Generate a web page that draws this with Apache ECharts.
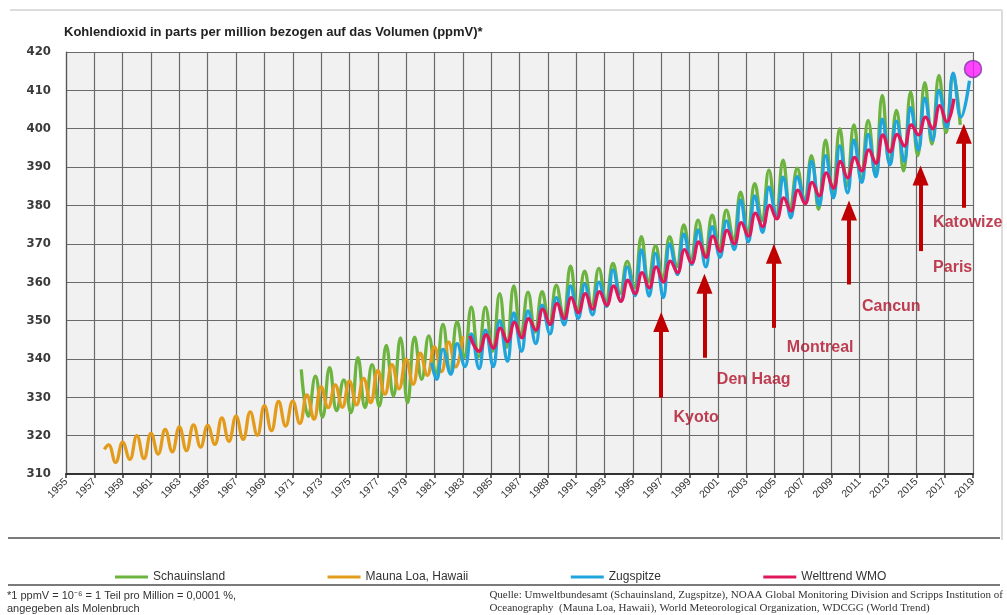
<!DOCTYPE html>
<html>
<head>
<meta charset="utf-8">
<script src="https://cdn.jsdelivr.net/npm/echarts@6/dist/echarts.min.js"></script>
<style>
html,body{margin:0;padding:0;background:#fff;}
#chart{width:1007px;height:615px;}
</style>
</head>
<body>
<div id="chart"></div>
<script>
// ---------------- DATA ----------------
const X0 = 1955;                      // x-axis origin (year)
const xMinYear = 1955, xMaxYear = 2019, xStepYears = 2;
const yMin = 310, yMax = 420, yStep = 10;

const seriesNames = ['Schauinsland', 'Mauna Loa, Hawaii', 'Zugspitze', 'Welttrend WMO'];

// Mauna Loa: seasonal maxima (year+0.0) 1958-1983 and minima (year+0.5) 1958-1982
const maunaLoaStart = [1957.7, 316.4];
const maunaLoaFirstYear = 1958;
const maunaLoaPeaks = [317.6, 318.3, 320.0, 320.6, 321.6, 322.3, 322.8, 322.7, 324.6, 325.1,
  326.2, 327.8, 328.9, 329.0, 330.6, 332.8, 333.2, 334.2, 334.9, 337.0, 338.5, 339.9, 341.5,
  343.1, 344.4, 345.9];
const maunaLoaTroughs = [313.0, 313.8, 314.0, 315.2, 315.8, 316.1, 317.0, 317.7, 318.5, 319.0,
  320.1, 321.3, 322.5, 323.2, 324.3, 327.3, 327.4, 328.0, 328.6, 330.8, 332.2, 333.4, 335.7,
  336.7, 337.9];
const maunaLoaPhase = [0.0, 0.5];

// Schauinsland: maxima (year+0.6) 1971-2017, minima (year+0.1) 1972-2018
const schauFirstYear = 1971;
const schauPeaks = [337.3, 335.5, 337.7, 334.5, 340.3, 338.5, 343.5, 345.5, 345.7, 346.0,
  349.0, 349.7, 353.5, 353.5, 357.0, 359.0, 357.4, 357.5, 359.2, 364.2, 362.9, 363.6, 364.9,
  365.4, 371.9, 369.5, 371.9, 374.9, 376.2, 377.5, 378.8, 383.5, 385.7, 389.2, 391.8, 389.7,
  393.0, 397.0, 400.0, 401.0, 402.2, 408.7, 404.8, 409.6, 412.0, 413.9, 414.0];
const schauTroughs = [325.0, 324.8, 326.5, 326.0, 327.3, 327.7, 330.3, 328.6, 334.7, 336.0,
  336.5, 340.4, 340.5, 342.0, 343.0, 346.0, 347.0, 349.0, 351.0, 352.5, 354.0, 355.0, 357.0,
  358.5, 360.0, 361.0, 364.0, 366.0, 367.0, 369.0, 371.0, 373.0, 376.0, 377.0, 379.0, 381.0,
  379.0, 383.0, 385.0, 387.0, 388.0, 391.0, 389.0, 393.0, 396.0, 399.0, 401.0];
const schauPhase = [0.6, 0.1];

// Zugspitze: start point, minima (year+0.15) 1981-2018, maxima (year+0.6) 1981-2017, end point
const zugStart = [1980.8, 339.0];
const zugFirstYear = 1981;
const zugTroughs = [334.7, 336.0, 338.0, 337.5, 338.0, 339.4, 342.0, 344.0, 346.5, 348.9,
  350.6, 351.5, 353.7, 355.0, 356.5, 356.4, 356.0, 362.0, 364.6, 364.0, 366.5, 368.5, 370.5,
  373.0, 377.0, 376.8, 381.0, 380.0, 382.0, 383.3, 386.0, 387.5, 390.6, 391.5, 394.5, 397.0,
  400.3, 403.0];
const zugPeaks = [342.5, 344.0, 346.5, 347.5, 350.0, 352.0, 352.5, 354.0, 356.0, 359.0,
  359.5, 360.0, 363.2, 364.0, 368.4, 367.5, 370.0, 372.5, 373.6, 374.5, 376.0, 381.4, 382.5,
  384.8, 387.4, 387.5, 391.5, 393.0, 395.5, 397.0, 398.5, 402.5, 402.0, 405.5, 408.0, 410.0,
  414.5];
const zugEnd = [2018.75, 412.5];
const zugPhase = [0.6, 0.15];

// Welttrend WMO: start point, minima (year+0.15) and maxima (year+0.65) 1984-2017
const wmoStart = [1983.5, 346.0];
const wmoFirstYear = 1984;
const wmoTroughs = [342.0, 342.8, 344.5, 345.5, 347.5, 349.0, 350.5, 352.0, 353.0, 354.0,
  355.0, 357.0, 358.5, 360.0, 362.5, 365.0, 366.5, 368.0, 370.0, 372.0, 374.5, 376.5, 378.5,
  380.5, 382.5, 384.5, 387.2, 389.0, 391.0, 394.0, 395.5, 398.4, 400.0, 401.8];
const wmoPeaks = [346.3, 348.0, 349.5, 350.5, 353.0, 354.5, 356.0, 357.0, 357.5, 359.0,
  360.5, 362.5, 364.0, 365.5, 368.5, 370.5, 372.0, 373.5, 375.5, 378.0, 380.0, 382.0, 384.0,
  386.0, 388.5, 391.5, 392.5, 394.5, 398.4, 398.5, 401.0, 403.0, 406.0, 407.8];
const wmoPhase = [0.65, 0.15];

// Latest value marker
const latestPoint = [2019.0, 415.6];

// Climate conference arrows: year, shaft bottom, arrow end (ppmV)
const arrowNames = ['Kyoto', 'Den Haag', 'Montreal', 'Cancun', 'Paris', 'Katowize'];
const arrowYears = [1997.0, 2000.05, 2004.95, 2010.25, 2015.3, 2018.35];
const arrowFrom  = [329.9, 340.3, 348.1, 359.4, 368.1, 379.4];
const arrowTo    = [349.6, 359.6, 367.4, 378.7, 387.8, 398.7];
// label anchor (left edge, middle) in year / ppmV
const labelYears = [1997.83, 2000.89, 2005.83, 2011.13, 2016.15, 2016.15];
const labelVals  = [324.7, 334.7, 342.9, 353.75, 363.75, 375.5];

const titleText = 'Kohlendioxid in parts per million bezogen auf das Volumen (ppmV)*';
const footLeft = ['*1 ppmV = 10\u207B\u2076 = 1 Teil pro Million = 0,0001 %,', 'angegeben als Molenbruch'];
const footRight = ['Quelle: Umweltbundesamt (Schauinsland, Zugspitze), NOAA Global Monitoring Division and Scripps Institution of',
  'Oceanography  (Mauna Loa, Hawaii), World Meteorological Organization, WDCGG (World Trend)'];

// ---------------- BUILD ----------------
function zig(firstYear, firstArr, firstPhase, secondArr, secondPhase, secondYearOffset) {
  const out = [];
  const n = Math.max(firstArr.length, secondArr.length);
  for (let i = 0; i < n; i++) {
    if (i < firstArr.length) out.push([firstYear + i + firstPhase - X0, firstArr[i]]);
    if (i < secondArr.length) out.push([firstYear + i + secondYearOffset + secondPhase - X0, secondArr[i]]);
  }
  return out;
}
const pt = p => [p[0] - X0, p[1]];

const mlData = [pt(maunaLoaStart)].concat(zig(maunaLoaFirstYear, maunaLoaPeaks, maunaLoaPhase[0], maunaLoaTroughs, maunaLoaPhase[1], 0));
const schauData = zig(schauFirstYear, schauPeaks, schauPhase[0], schauTroughs, schauPhase[1], 1);
const zugData = [pt(zugStart)].concat(zig(zugFirstYear, zugTroughs, zugPhase[1], zugPeaks, zugPhase[0], 0)).concat([pt(zugEnd)]);
const wmoData = [pt(wmoStart)].concat(zig(wmoFirstYear, wmoTroughs, wmoPhase[1], wmoPeaks, wmoPhase[0], 0));

const colors = {
  'Schauinsland': '#6db33f',
  'Mauna Loa, Hawaii': '#e39b1b',
  'Zugspitze': '#1fa5dc',
  'Welttrend WMO': '#e0185a'
};

function lineSeries(name, data) {
  return {
    name: name, type: 'line', data: data, smooth: 0.45, showSymbol: false, symbol: 'none',
    lineStyle: { color: colors[name], width: 3.3 }, itemStyle: { color: colors[name] },
    animation: false, silent: true, z: 3
  };
}

const FONT = 'Liberation Sans, Arial, sans-serif';

const chart = echarts.init(document.getElementById('chart'), null, { renderer: 'canvas' });
chart.setOption({
  backgroundColor: '#ffffff',
  animation: false,
  title: {
    text: titleText, left: 59, top: 21,
    textStyle: { fontFamily: FONT, fontSize: 13, fontWeight: 'bold', color: '#222' }
  },
  grid: { left: 66, top: 52, width: 907, height: 422, show: true, backgroundColor: '#f1f1f1', borderWidth: 0 },
  legend: {
    data: seriesNames, left: 110, top: 566, itemGap: 102.5, itemWidth: 33, itemHeight: 3, icon: 'rect',
    selectedMode: false,
    textStyle: { fontFamily: FONT, fontSize: 12, color: '#333' }
  },
  xAxis: {
    type: 'value', min: xMinYear - X0, max: xMaxYear - X0, interval: xStepYears,
    axisLabel: { formatter: v => String(v + X0), rotate: 45, fontSize: 10.5, color: '#333', margin: 6, fontFamily: FONT },
    axisLine: { show: true, lineStyle: { color: '#333', width: 2 } },
    axisTick: { show: true, length: 4, lineStyle: { color: '#333', width: 1.5 } },
    splitLine: { show: true, lineStyle: { color: '#6a6a6a', width: 1.2 } }
  },
  yAxis: {
    type: 'value', min: yMin, max: yMax, interval: yStep,
    axisLabel: { fontSize: 13, fontWeight: 'bold', color: '#3a3a3a', margin: 15, fontFamily: 'DejaVu Sans Condensed, ' + FONT },
    axisLine: { show: true, lineStyle: { color: '#555', width: 1.2 } },
    axisTick: { show: false },
    splitLine: { show: true, lineStyle: { color: '#6a6a6a', width: 1.2 } }
  },
  series: [
    lineSeries('Schauinsland', schauData),
    lineSeries('Mauna Loa, Hawaii', mlData),
    lineSeries('Zugspitze', zugData),
    lineSeries('Welttrend WMO', wmoData),
    {
      type: 'line', data: [], silent: true, z: 5,
      markLine: {
        silent: true, animation: false, symbol: ['none', 'triangle'], symbolSize: [16, 20],
        lineStyle: { color: '#c00000', width: 4, type: 'solid' },
        label: { show: false },
        data: arrowYears.map((y, i) => [{ coord: [y - X0, arrowFrom[i]] }, { coord: [y - X0, arrowTo[i]] }])
      }
    },
    {
      type: 'scatter', silent: true, z: 6, symbolSize: 1, itemStyle: { color: 'rgba(0,0,0,0)' },
      data: labelYears.map((y, i) => ({ value: [y - X0, labelVals[i]], name: arrowNames[i] })),
      label: {
        show: true, position: 'right', distance: 0, formatter: p => p.name,
        fontFamily: FONT, fontSize: 16, fontWeight: 'bold', color: '#b01228'
      }
    },
    {
      type: 'scatter', silent: true, z: 7, clip: false, symbolSize: 17,
      itemStyle: { color: '#ff19ff', borderColor: '#7b3aa0', borderWidth: 1.5 },
      data: [pt(latestPoint)]
    }
  ],
  graphic: [
    { type: 'line', shape: { x1: 10, y1: 10, x2: 1002, y2: 10 }, style: { stroke: '#dcdcdc', lineWidth: 2 }, silent: true },
    { type: 'line', shape: { x1: 1002, y1: 10, x2: 1002, y2: 540 }, style: { stroke: '#dcdcdc', lineWidth: 2 }, silent: true },
    { type: 'line', shape: { x1: 8, y1: 538, x2: 1000, y2: 538 }, style: { stroke: '#7a7a7a', lineWidth: 2 }, silent: true },
    { type: 'line', shape: { x1: 8, y1: 585, x2: 1000, y2: 585 }, style: { stroke: '#7a7a7a', lineWidth: 2 }, silent: true },
    { type: 'text', left: 7, top: 589, style: { text: footLeft.join('\n'), font: '11px ' + FONT, fill: '#333', lineHeight: 13 }, silent: true },
    { type: 'text', right: 4, top: 589, style: { text: footRight.join('\n'), font: '11px Liberation Serif, serif', fill: '#333', lineHeight: 13, align: 'right' }, silent: true }
  ]
});
</script>
</body>
</html>
